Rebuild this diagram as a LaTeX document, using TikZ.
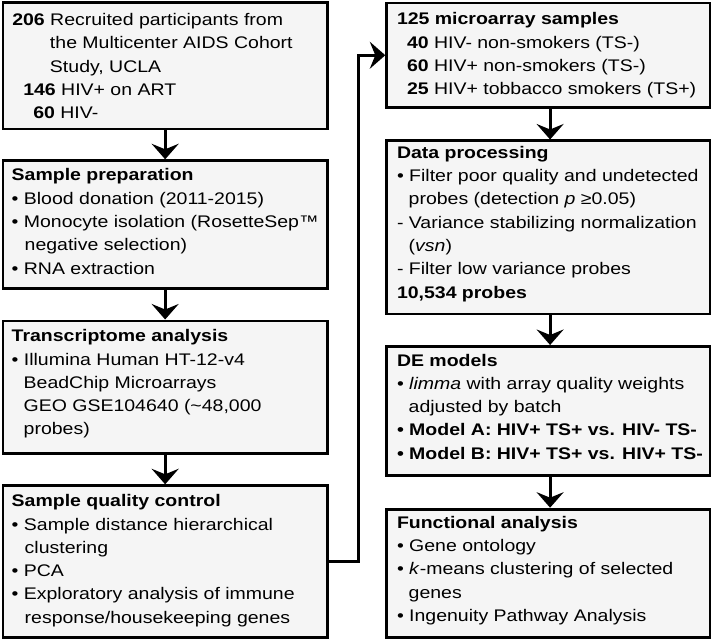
\documentclass[tikz,border=0pt]{standalone}
\usepackage{fontspec}
\setmainfont[FakeStretch=1.16]{Liberation Sans}
\usetikzlibrary{arrows.meta}
\definecolor{boxfill}{RGB}{245,245,245}
\newcommand\flowlines[1]{\parbox[t]{320pt}{\fontsize{16.8pt}{23.3pt}\selectfont\raggedright #1}}
\tikzset{
  flowbox/.style={draw=black, line width=2.8pt, fill=boxfill, inner sep=0pt, anchor=north west},
  flowtext/.style={anchor=base west, inner sep=0pt, outer sep=0pt},
  flowarrow/.style={line width=2.8pt, -{Stealth[length=15.5pt,width=27pt,inset=5.5pt]}},
}
\begin{document}
\begin{tikzpicture}[x=1pt,y=-1pt]
\useasboundingbox (0,0) rectangle (712,639);
% left column boxes
\node[flowbox, minimum width=324.5pt, minimum height=126.2pt] (b1) at (1.5,1.5) {};
\node[flowbox, minimum width=324.5pt, minimum height=127.4pt] (b2) at (1.5,159.3) {};
\node[flowbox, minimum width=324.5pt, minimum height=132.2pt] (b3) at (1.5,319.5) {};
\node[flowbox, minimum width=324.5pt, minimum height=151.7pt] (b4) at (1.5,484.3) {};
% right column boxes
\node[flowbox, minimum width=323.2pt, minimum height=104.3pt] (r1) at (385.3,1.7) {};
\node[flowbox, minimum width=323.2pt, minimum height=173pt] (r2) at (385.3,139.5) {};
\node[flowbox, minimum width=323.2pt, minimum height=129pt] (r3) at (385.3,345) {};
\node[flowbox, minimum width=323.2pt, minimum height=128.3pt] (r4) at (385.3,507.7) {};
% texts
\node[flowtext] (t1) at (12.3,25.7) {\flowlines{%
\textbf{206} Recruited participants from\\
\hspace*{37.7pt}the Multicenter AIDS Cohort\\
\hspace*{37.7pt}Study, UCLA\\
\hspace*{11pt}\textbf{146} HIV+ on ART\\
\hspace*{21pt}\textbf{60} HIV-}};
\node[flowtext] (t2) at (11.7,181) {\flowlines{%
\textbf{Sample preparation}\\
• Blood donation (2011-2015)\\
• Monocyte isolation (RosetteSep™\\
\hspace*{13pt}negative selection)\\
• RNA extraction}};
\node[flowtext] (t3) at (11.7,341.7) {\flowlines{%
\textbf{Transcriptome analysis}\\
• Illumina Human HT-12-v4\\
\hspace*{12pt}BeadChip Microarrays\\
\hspace*{12pt}GEO GSE104640 (\textasciitilde48,000\\
\hspace*{12pt}probes)}};
\node[flowtext] (t4) at (11.7,506.7) {\flowlines{%
\textbf{Sample quality control}\\
• Sample distance hierarchical\\
\hspace*{13pt}clustering\\
• PCA\\
• Exploratory analysis of immune\\
\hspace*{13pt}response/housekeeping genes}};
\node[flowtext] (u1) at (397,25) {\flowlines{%
\textbf{125 microarray samples}\\
\hspace*{10pt}\textbf{40} HIV- non-smokers (TS-)\\
\hspace*{10pt}\textbf{60} HIV+ non-smokers (TS-)\\
\hspace*{10pt}\textbf{25} HIV+ tobbacco smokers (TS+)}};
\node[flowtext] (u2) at (397,158.3) {\flowlines{%
\textbf{Data processing}\\
• Filter poor quality and undetected\\
\hspace*{11.7pt}probes (detection \textit{p} ≥0.05)\\
- Variance stabilizing normalization\\
\hspace*{11.7pt}(\textit{vsn})\\
- Filter low variance probes\\
\textbf{10,534 probes}}};
\node[flowtext] (u3) at (397,366) {\flowlines{%
\textbf{DE models}\\
• \textit{limma} with array quality weights\\
\hspace*{11.7pt}adjusted by batch\\
\textbf{• Model A: HIV+ TS+ vs. HIV- TS-}\\
\textbf{• Model B: HIV+ TS+ vs. HIV+ TS-}}};
\node[flowtext] (u4) at (397,528.3) {\flowlines{%
\textbf{Functional analysis}\\
• Gene ontology\\
• \textit{k}-means clustering of selected\\
\hspace*{11.7pt}genes\\
• Ingenuity Pathway Analysis}};
% connectors
\draw[flowarrow] (b1.south) -- (b2.north);
\draw[flowarrow] (b2.south) -- (b3.north);
\draw[flowarrow] (b3.south) -- (b4.north);
\draw[flowarrow] (b4.east) -- ([xshift=29.3pt]b4.east) |- (r1.west);
\draw[flowarrow] ([xshift=1.8pt]r1.south) -- ([xshift=1.8pt]r2.north);
\draw[flowarrow] ([xshift=1.8pt]r2.south) -- ([xshift=1.8pt]r3.north);
\draw[flowarrow] ([xshift=1.8pt]r3.south) -- ([xshift=1.8pt]r4.north);
\end{tikzpicture}
\end{document}
